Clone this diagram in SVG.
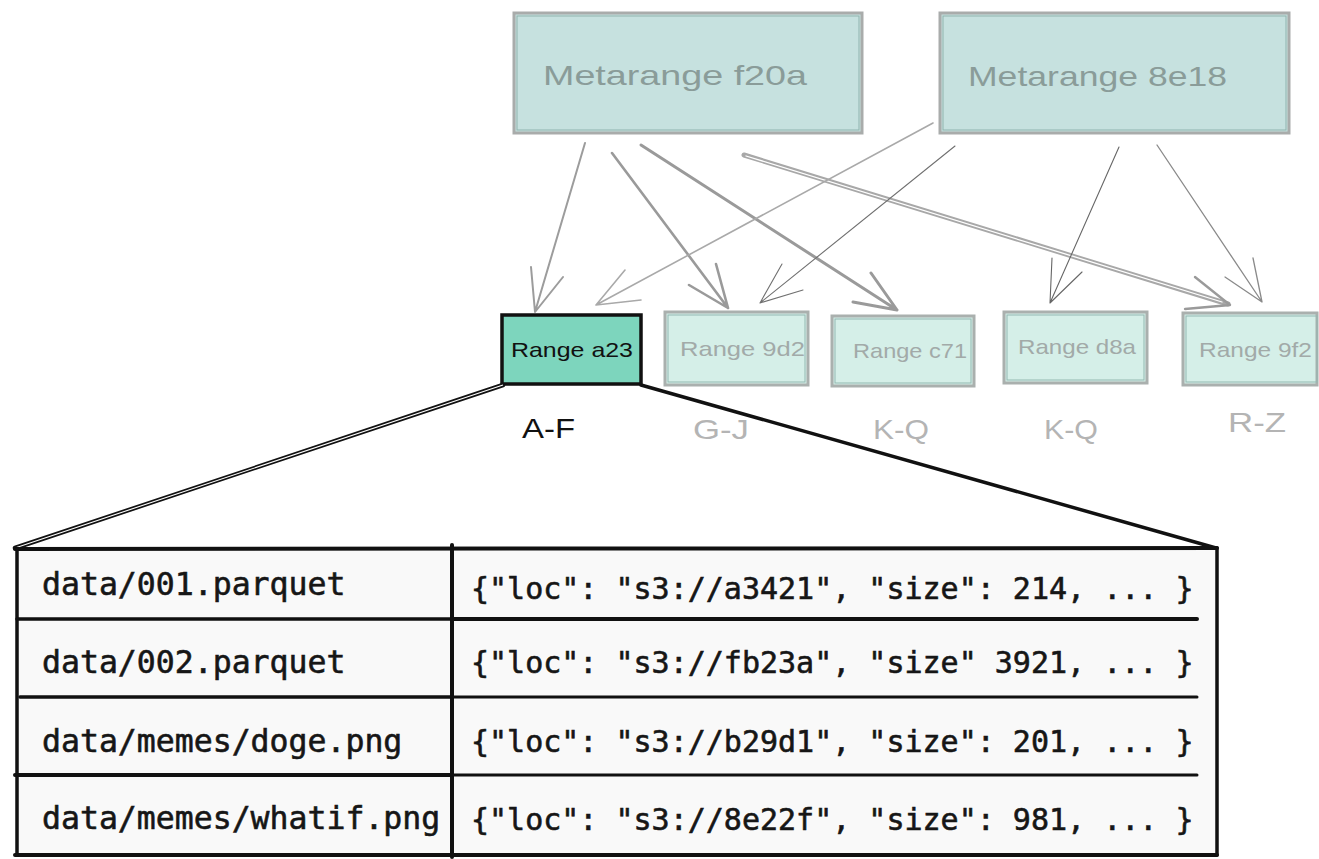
<svg xmlns="http://www.w3.org/2000/svg" width="1319" height="859" viewBox="0 0 1319 859">
<style>
.meta{fill:#c6e1df;stroke:#a9acab;stroke-width:3}
.metain{fill:none;stroke:#8fb3ae;stroke-width:1}
.rng{fill:#d5efe8;stroke:#aab0ae;stroke-width:3}
.rngin{fill:none;stroke:#93b8b1;stroke-width:1}
.sel{fill:#7dd5bd;stroke:#111;stroke-width:3.5}
.hand{font-family:"Liberation Sans","DejaVu Sans",sans-serif}
.mt{font-size:28px;fill:#8a9c99}
.rt{font-size:21px;fill:#a2aaa8}
.lbl{font-size:28px;fill:#b4b4b4}
.mono{font-family:"DejaVu Sans Mono","Liberation Mono",monospace;fill:#161616;stroke:#161616;stroke-width:0.6}
.ml{font-size:31.5px}
.mr{font-size:30px}
.arr{fill:none;stroke-linecap:round;stroke-linejoin:round}
.tb{stroke:#111;stroke-linecap:round;fill:none}
</style>
<g id="metarange-f20a">
<rect class="meta" x="514" y="13" width="348" height="120"/>
<rect class="metain" x="517" y="16" width="342" height="114"/>
<text class="hand mt" x="543" y="85" textLength="264" lengthAdjust="spacingAndGlyphs">Metarange f20a</text>
</g>
<g id="metarange-8e18">
<rect class="meta" x="940" y="13" width="349" height="120"/>
<rect class="metain" x="943" y="16" width="343" height="114"/>
<text class="hand mt" x="968" y="86" textLength="259" lengthAdjust="spacingAndGlyphs">Metarange 8e18</text>
</g>
<g id="range-a23">
<rect class="sel" x="502" y="315" width="139" height="69"/>
<text class="hand" x="511" y="357" font-size="21" fill="#111" textLength="122" lengthAdjust="spacingAndGlyphs">Range a23</text>
<text class="hand" x="522" y="438" font-size="28" fill="#111" textLength="53" lengthAdjust="spacingAndGlyphs">A-F</text>
</g>
<g id="range-9d2">
<rect class="rng" x="665" y="312" width="143" height="73"/>
<rect class="rngin" x="668" y="315" width="137" height="67"/>
<text class="hand rt" x="680" y="356" textLength="125" lengthAdjust="spacingAndGlyphs">Range 9d2</text>
<text class="hand lbl" x="693" y="439" textLength="56" lengthAdjust="spacingAndGlyphs">G-J</text>
</g>
<g id="range-c71">
<rect class="rng" x="832" y="316" width="142" height="70"/>
<rect class="rngin" x="835" y="319" width="136" height="64"/>
<text class="hand rt" x="853" y="358" textLength="114" lengthAdjust="spacingAndGlyphs">Range c71</text>
<text class="hand lbl" x="873" y="439" textLength="56" lengthAdjust="spacingAndGlyphs">K-Q</text>
</g>
<g id="range-d8a">
<rect class="rng" x="1004" y="312" width="143" height="71"/>
<rect class="rngin" x="1007" y="315" width="137" height="65"/>
<text class="hand rt" x="1018" y="354" textLength="118" lengthAdjust="spacingAndGlyphs">Range d8a</text>
<text class="hand lbl" x="1044" y="439" textLength="54" lengthAdjust="spacingAndGlyphs">K-Q</text>
</g>
<g id="range-9f2">
<rect class="rng" x="1183" y="313" width="134" height="72"/>
<rect class="rngin" x="1186" y="316" width="131" height="66"/>
<text class="hand rt" x="1199" y="357" textLength="113" lengthAdjust="spacingAndGlyphs">Range 9f2</text>
<text class="hand lbl" x="1228" y="432" textLength="58" lengthAdjust="spacingAndGlyphs">R-Z</text>
</g>
<g id="connectors">
<path class="arr" style="stroke:#9c9c9c;stroke-width:2" d="M585 143 L535 312 M531 267 L535 312 L563 277"/>
<path class="arr" style="stroke:#9a9a9a;stroke-width:2.6" d="M612 153 L728 308 M716 264 L728 308 L689 285"/>
<path class="arr" style="stroke:#9a9a9a;stroke-width:3" d="M641 145 L897 310 M871 273 L897 310 L853 302"/>
<path class="arr" style="stroke:#a8a8a8;stroke-width:5" d="M744 155 L1228 304"/>
<path class="arr" style="stroke:#ffffff;stroke-width:1.3" d="M746 156 L1222 302"/>
<path class="arr" style="stroke:#9a9a9a;stroke-width:2.4" d="M1195 277 L1230 305 L1185 309"/>
<path class="arr" style="stroke:#a9a9a9;stroke-width:1.6" d="M933 123 L596 305 M641 300 L596 305 L625 270"/>
<path class="arr" style="stroke:#707070;stroke-width:1.1" d="M955 146 L760 303 M803 290 L760 303 L782 264"/>
<path class="arr" style="stroke:#666666;stroke-width:1.1" d="M1119 147 L1050 303 M1082 272 L1050 303 L1052 258"/>
<path class="arr" style="stroke:#8a8a8a;stroke-width:1.3" d="M1157 145 L1262 302 M1253 258 L1262 302 L1225 277"/>
<path class="tb" style="stroke-width:4.5" d="M503 385 L15 548"/>
<path style="stroke:#fff;stroke-width:1.1;fill:none" d="M503 385 L15 548"/>
<path class="tb" style="stroke-width:3.5" d="M641 385 L1216 548"/>
</g>
<g id="table">
<rect x="16" y="549" width="1201" height="306" fill="#f9f9f9"/>
<path class="tb" style="stroke-width:4" d="M15 549 L1217 548 M15 855 L1217 855"/>
<path class="tb" style="stroke-width:3.5" d="M17 549 L17 855 M1217 548 L1217 855"/>
<path class="tb" style="stroke-width:4" d="M452 545 L452 857"/>
<path class="tb" style="stroke-width:3.5" d="M17 619 L452 619 M20 697 L452 697"/>
<path class="tb" style="stroke-width:4" d="M15 775 L452 775 M452 619 L1197 619"/>
<path class="tb" style="stroke-width:3" d="M452 697 L1197 697 M452 775 L1197 775"/>
<text class="mono ml" x="42" y="595">data/001.parquet</text>
<text class="mono ml" x="42" y="673">data/002.parquet</text>
<text class="mono ml" x="42" y="752">data/memes/doge.png</text>
<text class="mono ml" x="42" y="829">data/memes/whatif.png</text>
<text class="mono mr" x="471" y="599">{"loc": "s3://a3421", "size": 214, ... }</text>
<text class="mono mr" x="471" y="673">{"loc": "s3://fb23a", "size" 3921, ... }</text>
<text class="mono mr" x="471" y="752">{"loc": "s3://b29d1", "size": 201, ... }</text>
<text class="mono mr" x="471" y="830">{"loc": "s3://8e22f", "size": 981, ... }</text>
</g>
</svg>
